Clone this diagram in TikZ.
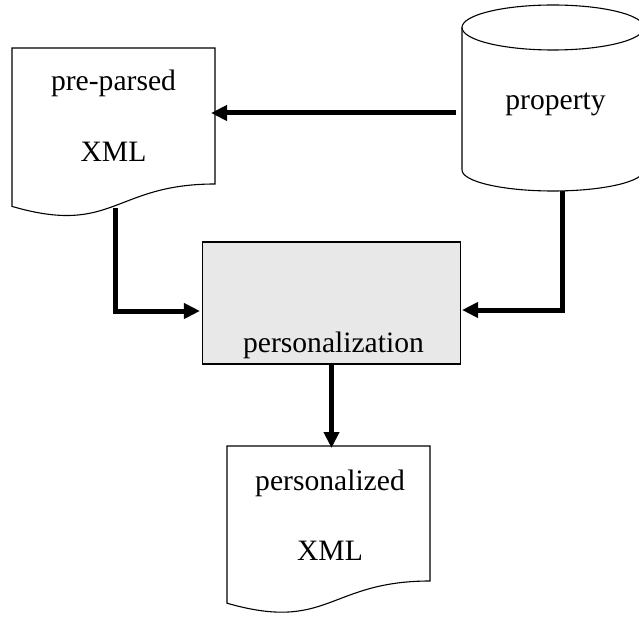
\documentclass[tikz,border=0pt]{standalone}
\usepackage{fontspec}
\setmainfont{Liberation Serif}
\usetikzlibrary{arrows.meta,calc}
\definecolor{boxgrey}{HTML}{E8E8E8}
\tikzset{
  outline/.style={draw=black, line width=1.1pt},
  holder/.style={draw=none, inner sep=0pt, outer sep=0pt},
  lbl/.style={anchor=base, inner sep=0pt, font=\fontsize{29.6}{35}\selectfont},
  conn/.style={line width=5pt, -{Triangle[length=16pt,width=15pt]}},
}
\begin{document}
\begin{tikzpicture}[x=1pt,y=-1pt]
\useasboundingbox (0,0) rectangle (639,617);
\clip (0,0) rectangle (639,617);
% pre-parsed XML document
\node[holder, minimum width=203pt, minimum height=136pt] (pre) at (113.5,116) {};
\draw[outline, fill=white] (pre.north west) -- (pre.north east) -- (pre.south east)
  .. controls (pre.south) and ($(pre.south)+(0,52)$) .. ($(pre.south west)+(0,22.4)$) -- cycle;
\node[lbl] (preA) at (113.5,90.7) {pre-parsed};
\node[lbl] (preB) at (113.5,161.7) {XML};
% property cylinder
\node[holder, minimum width=182pt, minimum height=186pt] (prop) at (553,98) {};
\draw[outline, fill=white] (462,27.5) -- (462,170) arc[start angle=180, end angle=360, x radius=91pt, y radius=21pt] -- (644,27.5);
\draw[outline, fill=white] (553,27.5) ellipse[x radius=91pt, y radius=22.5pt];
\node[lbl] (propA) at (555.5,110) {property};
% personalization box
\node[outline, fill=boxgrey, minimum width=258pt, minimum height=122pt, inner sep=0pt] (pers) at (331.5,303) {};
\node[lbl] (persA) at (333.5,352.7) {personalization};
% personalized XML document
\node[holder, minimum width=203pt, minimum height=135pt] (out) at (328.5,513.5) {};
\draw[outline, fill=white] (out.north west) -- (out.north east) -- (out.south east)
  .. controls (out.south) and ($(out.south)+(0,51.4)$) .. ($(out.south west)+(0,22.2)$) -- cycle;
\node[lbl] (outA) at (330,490) {personalized};
\node[lbl] (outB) at (330,560) {XML};
% connectors
\coordinate (c1) at (456,113);
\draw[conn, shorten >=-4pt] (c1) -- (c1 -| pre.east);
\coordinate (c2) at (115,208);
\coordinate (c2e) at ($(pers.west)+(-2,8)$);
\draw[conn] (c2) |- (c2e);
\coordinate (c3) at (562,191);
\coordinate (c3e) at ($(pers.east)+(1,7)$);
\draw[conn] (c3) |- (c3e);
\draw[conn, shorten >=-2pt] (pers.south) -- (pers.south |- out.north);
\end{tikzpicture}
\end{document}
